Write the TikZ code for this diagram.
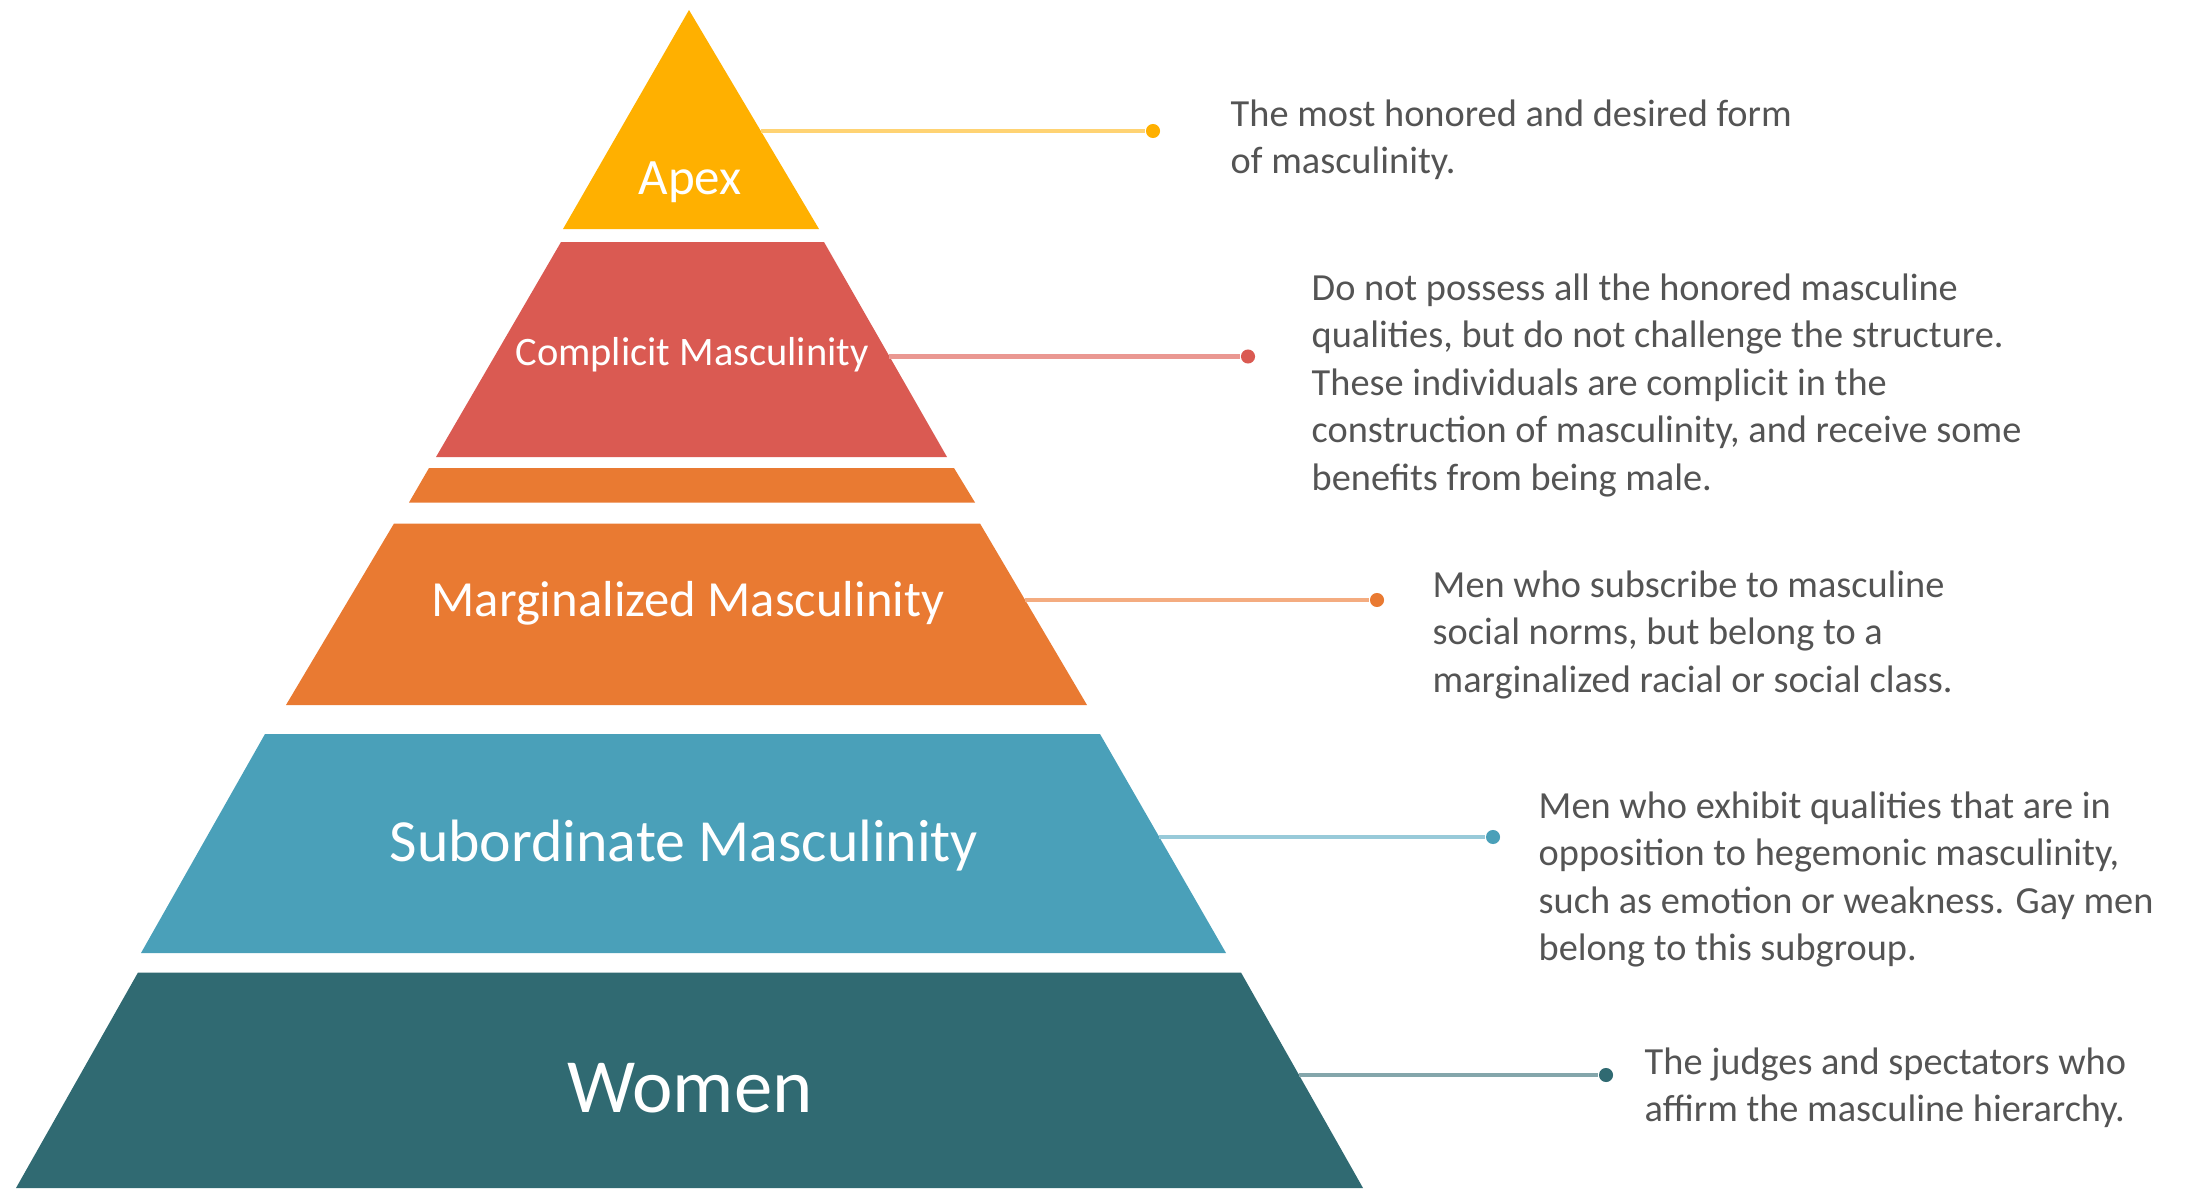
\documentclass[tikz,border=0pt]{standalone}
\usepackage{fontspec}
\setmainfont{Carlito}
\usepackage{tikz}

\definecolor{apexgold}{RGB}{255,176,0}
\definecolor{apexlight}{RGB}{255,211,115}
\definecolor{complred}{RGB}{218,90,82}
\definecolor{compllight}{RGB}{234,152,146}
\definecolor{margorange}{RGB}{233,122,50}
\definecolor{marglight}{RGB}{244,172,128}
\definecolor{subblue}{RGB}{74,160,185}
\definecolor{sublight}{RGB}{152,202,217}
\definecolor{womenteal}{RGB}{48,106,114}
\definecolor{womenlight}{RGB}{132,166,171}
\definecolor{textgray}{RGB}{84,84,84}

\begin{document}
\begin{tikzpicture}[x=0.01cm, y=-0.01cm,
          tier/.style={font=\fontsize{#1}{#1}\selectfont, text=white, inner sep=0pt},
          desc/.style={anchor=north west, inner sep=0pt, align=left,
                       text=textgray, font=\fontsize{10.9}{13.5}\selectfont},
          lead/.style={line width=1.3pt, #1},
          tipdot/.style={circle, fill=#1, inner sep=0pt, minimum size=4pt}
        ]
          \useasboundingbox (0,0) rectangle (2192,1188);
          % pyramid tiers, top to bottom
          \fill[apexgold] (689,10) -- (819,229) -- (563,229) -- cycle;
          \fill[complred] (561,242) -- (824,242) -- (947,457) -- (436,457) -- cycle;
          \fill[margorange] (429,468) -- (954,468) -- (975,502.5) -- (409,502.5) -- cycle;
          \fill[margorange] (394,523.5) -- (980,523.5) -- (1087,705) -- (286,705) -- cycle;
          \fill[subblue] (265,734) -- (1100,734) -- (1226,953) -- (141,953) -- cycle;
          \fill[womenteal] (138,972.5) -- (1241,972.5) -- (1363,1188) -- (16,1188) -- cycle;
          \node[tier=14.5] (apex) at (690,182) {Apex};
          \node[tier=11.5] (complicit) at (692,355) {Complicit Masculinity};
          \node[tier=14.4] (marginal) at (688,603) {Marginalized Masculinity};
          \node[tier=17] (subordinate) at (684,846) {Subordinate Masculinity};
          \node[tier=21.8] (women) at (690,1088) {Women};
          % leader lines from the right edge of each tier
          \coordinate (apexedge) at (761,131);
          \coordinate (compledge) at (889,356.5);
          \coordinate (margedge) at (1025,600);
          \coordinate (subedge) at (1159,837);
          \coordinate (womenedge) at (1299,1075);
          \node[tipdot=apexgold] (apexdot) at (1153,131) {};
          \node[tipdot=complred] (compldot) at (1248,356.5) {};
          \node[tipdot=margorange] (margdot) at (1377,600) {};
          \node[tipdot=subblue] (subdot) at (1493,837) {};
          \node[tipdot=womenteal] (womendot) at (1606,1075) {};
          \draw[lead=apexlight] (apexedge) -- (apexdot);
          \draw[lead=compllight] (compledge) -- (compldot);
          \draw[lead=marglight] (margedge) -- (margdot);
          \draw[lead=sublight] (subedge) -- (subdot);
          \draw[lead=womenlight] (womenedge) -- (womendot);
          % descriptions
          \node[desc] (apexdesc) at (1230,99) {The most honored and desired form\\of masculinity.};
          \node[desc] (compldesc) at (1311,273) {Do not possess all the honored masculine\\qualities, but do not challenge the structure.\\These individuals are complicit in the\\construction of masculinity, and receive some\\benefits from being male.};
          \node[desc] (margdesc) at (1432,570) {Men who subscribe to masculine\\social norms, but belong to a\\marginalized racial or social class.};
          \node[desc] (subdesc) at (1538,791) {Men who exhibit qualities that are in\\opposition to hegemonic masculinity,\\such as emotion or weakness. Gay men\\belong to this subgroup.};
          \node[desc] (womendesc) at (1644,1047) {The judges and spectators who\\affirm the masculine hierarchy.};
        \end{tikzpicture}
\end{document}
